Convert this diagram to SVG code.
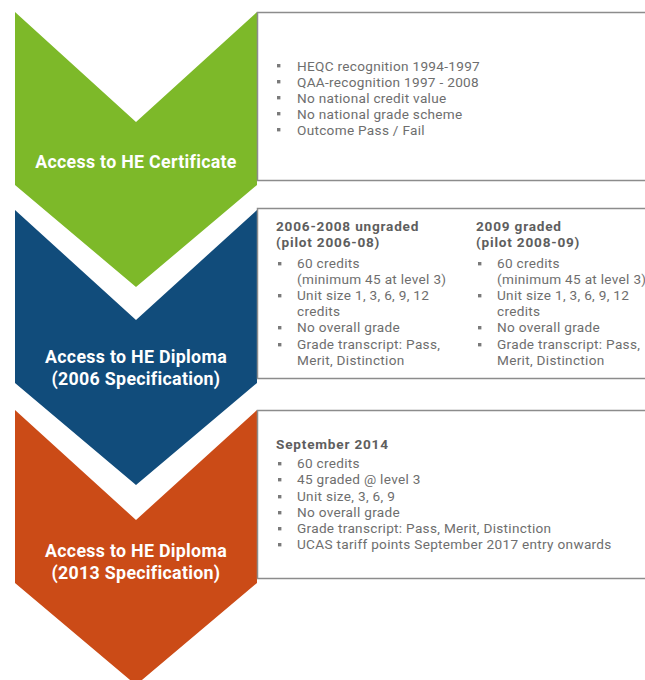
<svg xmlns="http://www.w3.org/2000/svg" width="645" height="680" viewBox="0 0 645 680">
  <defs>
    <style>
      .stage-title { font-family: Roboto, "Liberation Sans", sans-serif; font-weight: 700; font-size: 17.8px; letter-spacing: 0.3px; fill: #ffffff; text-anchor: middle; }
      .info-box { fill: #ffffff; stroke: #8c8c8c; stroke-width: 1.5; }
      .body { font-family: Roboto, "Liberation Sans", sans-serif; font-size: 13.6px; letter-spacing: 0.3px; fill: #6e6e6e; }
      .head { font-family: Roboto, "Liberation Sans", sans-serif; font-size: 13.6px; letter-spacing: 0.8px; font-weight: 700; fill: #5e5e5e; }
      .bullet { fill: #7a7a7a; }
    </style>
    <!-- small square bullet mark -->
    <rect id="sq" width="3.4" height="3.4" class="bullet"/>
    <!-- chevron outline, top edge at y=0 -->
    <polygon id="chev" points="15,0 136,110 257,0 257,173 136,275 15,173"/>
  </defs>

  <rect width="645" height="680" fill="#ffffff"/>

  <!-- Stage 1: Access to HE Certificate -->
  <g id="stage-certificate">
    <use href="#chev" y="12" fill="#7db929"/>
    <text class="stage-title" x="136" y="168">Access to HE Certificate</text>
  </g>
  <g id="box-certificate">
    <rect class="info-box" x="257.5" y="12.5" width="400" height="168"/>
    <g class="body">
      <text x="297" y="70.5">HEQC recognition 1994-1997</text>
      <text x="297" y="86.5">QAA-recognition 1997 - 2008</text>
      <text x="297" y="102.5">No national credit value</text>
      <text x="297" y="118.5">No national grade scheme</text>
      <text x="297" y="134.5">Outcome Pass / Fail</text>
    </g>
    <use href="#sq" x="277" y="64"/>
    <use href="#sq" x="277" y="80"/>
    <use href="#sq" x="277" y="96"/>
    <use href="#sq" x="277" y="112"/>
    <use href="#sq" x="277" y="128"/>
  </g>

  <!-- Stage 2: Access to HE Diploma (2006 Specification) -->
  <g id="stage-diploma-2006">
    <use href="#chev" y="210" fill="#114c7b"/>
    <text class="stage-title" x="136" y="363">Access to HE Diploma</text>
    <text class="stage-title" x="136" y="385">(2006 Specification)</text>
  </g>
  <g id="box-diploma-2006">
    <rect class="info-box" x="257.5" y="208.5" width="400" height="170"/>
    <text class="head" x="276" y="231">2006-2008 ungraded</text>
    <text class="head" x="276" y="247">(pilot 2006-08)</text>
    <g class="body">
      <text x="297" y="268">60 credits</text>
      <text x="297" y="284">(minimum 45 at level 3)</text>
      <text x="297" y="300">Unit size 1, 3, 6, 9, 12</text>
      <text x="297" y="316">credits</text>
      <text x="297" y="332">No overall grade</text>
      <text x="297" y="349">Grade transcript: Pass,</text>
      <text x="297" y="365">Merit, Distinction</text>
    </g>
    <use href="#sq" x="278" y="262"/>
    <use href="#sq" x="278" y="294"/>
    <use href="#sq" x="278" y="326"/>
    <use href="#sq" x="278" y="343"/>

    <text class="head" x="476" y="231">2009 graded</text>
    <text class="head" x="476" y="247">(pilot 2008-09)</text>
    <g class="body">
      <text x="497" y="268">60 credits</text>
      <text x="497" y="284">(minimum 45 at level 3)</text>
      <text x="497" y="300">Unit size 1, 3, 6, 9, 12</text>
      <text x="497" y="316">credits</text>
      <text x="497" y="332">No overall grade</text>
      <text x="497" y="349">Grade transcript: Pass,</text>
      <text x="497" y="365">Merit, Distinction</text>
    </g>
    <use href="#sq" x="478" y="262"/>
    <use href="#sq" x="478" y="294"/>
    <use href="#sq" x="478" y="326"/>
    <use href="#sq" x="478" y="343"/>
  </g>

  <!-- Stage 3: Access to HE Diploma (2013 Specification) -->
  <g id="stage-diploma-2013">
    <use href="#chev" y="410" fill="#cb4b17"/>
    <text class="stage-title" x="136" y="557">Access to HE Diploma</text>
    <text class="stage-title" x="136" y="579">(2013 Specification)</text>
  </g>
  <g id="box-diploma-2013">
    <rect class="info-box" x="257.5" y="410.5" width="400" height="168"/>
    <text class="head" x="276" y="449">September 2014</text>
    <g class="body">
      <text x="297" y="468">60 credits</text>
      <text x="297" y="484">45 graded @ level 3</text>
      <text x="297" y="501">Unit size, 3, 6, 9</text>
      <text x="297" y="517">No overall grade</text>
      <text x="297" y="533">Grade transcript: Pass, Merit, Distinction</text>
      <text x="297" y="549">UCAS tariff points September 2017 entry onwards</text>
    </g>
    <use href="#sq" x="278" y="462"/>
    <use href="#sq" x="278" y="478"/>
    <use href="#sq" x="278" y="495"/>
    <use href="#sq" x="278" y="511"/>
    <use href="#sq" x="278" y="527"/>
    <use href="#sq" x="278" y="543"/>
  </g>

  <!-- no connectors between stages; the chevrons themselves show the sequence -->
  <g id="connectors"/>
</svg>
